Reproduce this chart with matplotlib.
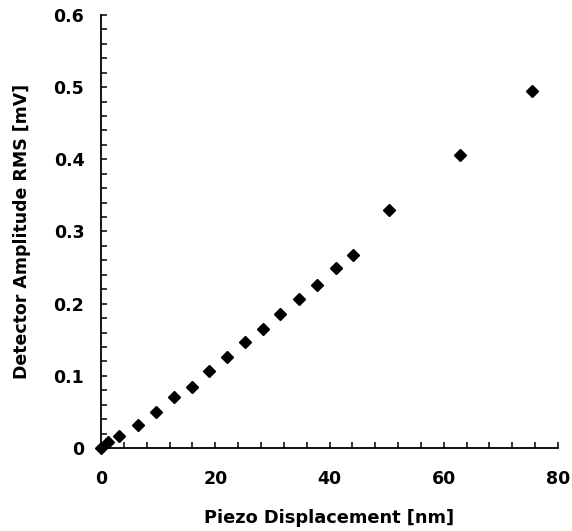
import matplotlib
matplotlib.use("Agg")
import matplotlib.pyplot as plt
from matplotlib.ticker import MultipleLocator

# piezo displacement [nm] vs detector amplitude RMS [mV]
displacement = [0, 1.3, 3.2, 6.4, 9.6, 12.8, 16.0, 18.9, 22.1, 25.2, 28.3,
                31.4, 34.6, 37.8, 41.1, 44.2, 50.5, 62.9, 75.5]
amplitude = [0, 0.008, 0.016, 0.032, 0.050, 0.070, 0.085, 0.107, 0.126, 0.147,
             0.165, 0.185, 0.207, 0.226, 0.250, 0.268, 0.330, 0.406, 0.495]

plt.rcParams["font.family"] = "DejaVu Sans"
plt.rcParams["font.weight"] = "bold"

fig = plt.figure(figsize=(5.72, 5.31), dpi=100)
ax = fig.add_axes([0.1766, 0.1563, 0.7989, 0.8155])

ax.plot(displacement, amplitude, marker="D", linestyle="", color="black",
        markersize=6, clip_on=False)

ax.set_xlim(0, 80)
ax.set_ylim(0, 0.6)
ax.xaxis.set_major_locator(MultipleLocator(20))
ax.xaxis.set_minor_locator(MultipleLocator(4))
ax.yaxis.set_major_locator(MultipleLocator(0.1))
ax.yaxis.set_minor_locator(MultipleLocator(0.02))
ax.yaxis.set_major_formatter(plt.FuncFormatter(lambda v, p: "0" if v == 0 else "%.1f" % v))

ax.spines["top"].set_visible(False)
ax.spines["right"].set_visible(False)
ax.spines["left"].set_linewidth(1.3)
ax.spines["bottom"].set_linewidth(1.3)

ax.tick_params(which="both", direction="in", width=1.1, length=4)
ax.tick_params(axis="x", which="major", pad=16, labelsize=12.5)
ax.tick_params(axis="y", which="major", pad=12, labelsize=12.5)

ax.set_xlabel("Piezo Displacement [nm]", fontsize=12.8, fontweight="bold", labelpad=15)
ax.set_ylabel("Detector Amplitude RMS [mV]", fontsize=12.5, fontweight="bold", labelpad=16)

fig.savefig("out.png", dpi=100)
